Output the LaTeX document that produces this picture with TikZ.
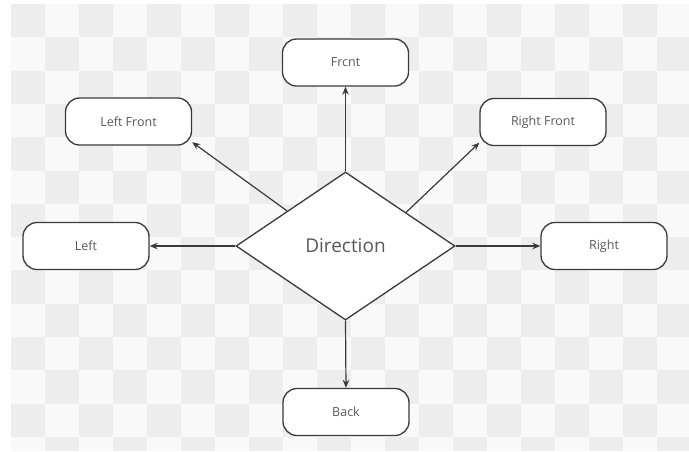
\documentclass[tikz,border=0pt]{standalone}
\usepackage{fontspec}
\setmainfont{Open Sans}
\usetikzlibrary{shapes.geometric,arrows.meta,calc}
\definecolor{chkgray}{HTML}{EDEDED}
\definecolor{chkwhite}{HTML}{F9F9F9}
\definecolor{linec}{HTML}{3A3A3A}
\definecolor{textc}{HTML}{585858}
\tikzset{
  dirbox/.style={draw=linec, line width=1.3pt, fill=white, rounded corners=14pt,
    minimum width=126pt, minimum height=47pt, inner sep=0pt,
    text=textc, font=\fontsize{12.5}{14}\selectfont},
  dirdiamond/.style={draw=linec, line width=1.3pt, fill=white, diamond, aspect=1.48,
    minimum width=219pt, minimum height=148pt, inner sep=0pt,
    text=textc, font=\fontsize{19}{22}\selectfont},
  conn/.style={draw=linec, line width=1.2pt, -{Stealth[length=8pt,width=6.5pt]}}
}
\begin{document}
\begin{tikzpicture}[x=1pt,y=-1pt]
\useasboundingbox (0,0) rectangle (689,451);
\fill[white] (0,0) rectangle (689,451);
\fill[chkwhite] (11,4) rectangle (689,451);
\foreach \i in {0,...,19} {
  \foreach \j in {0,...,13} {
    \pgfmathparse{int(mod(\i+\j,2))}
    \ifnum\pgfmathresult=0
      \fill[chkgray] ({11+\i*34},{4+\j*33.3}) rectangle ({min(689,11+(\i+1)*34)},{min(451,4+(\j+1)*33.3)});
    \fi
  }
}
\node[dirdiamond] (d) at (345.5,246) {Direction};
\node[dirbox] (f)  at (345.5,62.5) {Frcnt};
\node[dirbox] (lf) at (128.5,121.5) {Left Front};
\node[dirbox] (rf) at (543,122) {Right Front};
\node[dirbox] (l)  at (86,246) {Left};
\node[dirbox] (r)  at (604,246) {Right};
\node[dirbox] (b)  at (346,412) {Back};
\draw[conn] (d.north) -- (f.south);
\draw[conn] ($(d.west)!0.47!(d.north)$) -- (lf.-18);
\draw[conn] ($(d.east)!0.45!(d.north)$) -- (rf.198);
\draw[conn] (d.west) -- (l.east);
\draw[conn] (d.east) -- (r.west);
\draw[conn] (d.south) -- (b.north);
\end{tikzpicture}
\end{document}
